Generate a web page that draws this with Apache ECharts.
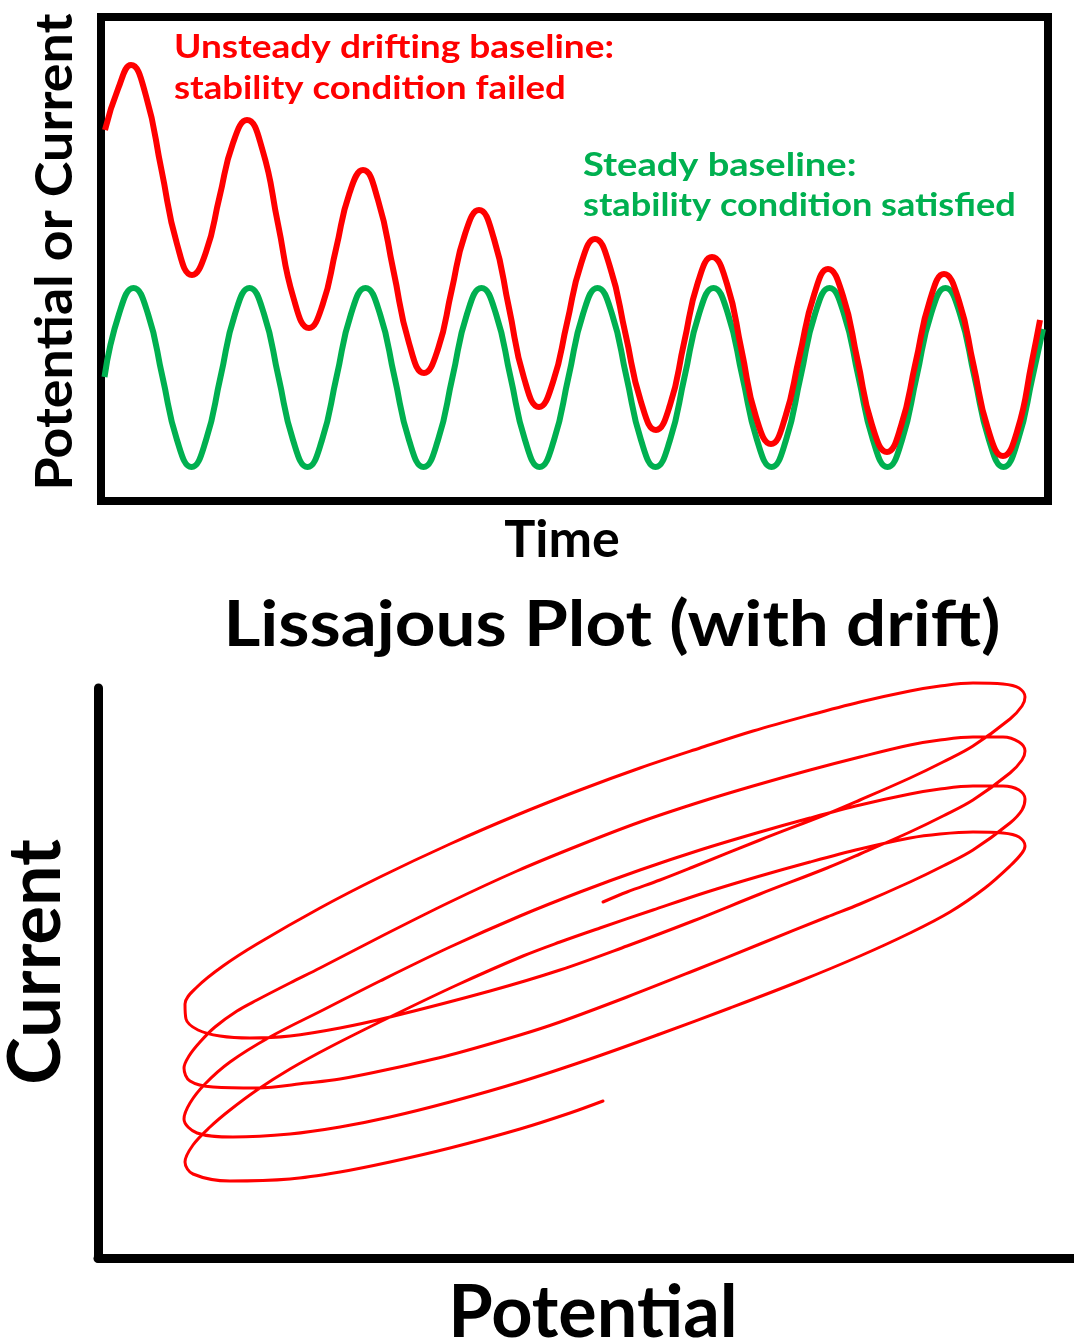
<!DOCTYPE html>
<html>
<head>
<meta charset="utf-8">
<script src="https://cdn.jsdelivr.net/npm/echarts@6/dist/echarts.min.js"></script>
<style>
html,body{margin:0;padding:0;background:#fff;}
#chart{width:1074px;height:1344px;}
</style>
</head>
<body>
<div id="chart"></div>
<script>
// ---- Top panel: time series (arbitrary units) ----
const greenTime = [3.5,18,32.5,47,61.5,76,90.5,105,119.5,134,148.5,163,177.5,192,206.5,221,235.5,250,264.5,279,293.5,308,322.5,337,351.5,366,380.5,395,409.5,424,438.5,453,467.5,482,496.5,511,525.5,540,554.5,569,583.5,598,612.5,627,641.5,656,670.5,685,699.5,714,728.5,743,757.5,772,786.5,801,815.5,830,844.5,859,873.5,888,902.5,917,931.5,942];
const greenValue = [124,187,213,187,124,61,34,61, 124,187,213,187,124,61,34,61, 124,187,213,187,124,61,34,61, 124,187,213,187,124,61,34,61, 124,187,213,187,124,61,34,61, 124,187,213,187,124,61,34,61, 124,187,213,187,124,61,34,61, 124,187,213,187,124,61,34,61, 124,172];

const redTime = [4,17,30,45,60.5,76,91,105,118.5,132,146,161.5,177,192.5,208,221.5,235,248.5,262,277,292.5,308,323,337,350.5,364,378,393,408,423,438,452,466,480,494,509,524.5,540,555,569,583,597,611,626,640.5,655,670,684,698.5,713,727,742,756.5,771,786,800,814.5,829,843,858,872.5,887,902,916.5,931,939];
const redValue = [371,412,436,405,331,257,226,249,304,358,381,351,277,203,173,196,252,308,331,301,230,158,128,152,210,267,291,262,193,123,94,119,178,237,262,234,167,99,71,96,158,219,244,217,151,84,57,83,145,206,232,205,141,76,49,75,138,201,227,200,136,72,45,71,140,181];

// ---- Bottom panel: Lissajous plot (potential vs current, arbitrary units) ----
const lissPotential = [
  505,529,562,595,662,729,762,812,845,875,912,924,
  927,921,905,875,842,812,762,712,655,602,542,482,419,352,282,222,159,125,99,87,
  88,100,122,152,192,242,292,392,462,529,595,662,729,762,812,845,875,912,924,
  927,921,905,875,842,812,762,712,655,602,542,482,419,352,282,222,192,159,139,117,102,91,86,
  92,115,159,209,242,292,352,422,462,529,595,662,729,762,812,845,875,912,924,
  927,921,905,875,842,812,762,712,662,602,542,482,422,352,282,225,172,132,107,92,86,
  99,135,192,242,292,352,422,492,562,632,702,762,812,852,887,912,924,
  927,921,905,875,842,812,762,712,662,609,555,502,462,425,359,292,232,192,159,132,112,95,87,
  95,132,192,242,292,352,422,472,505];
const lissCurrent = [
  356,366,378,391,418,444,458,480,496,512,539,552,
  561,570,574,575,572,567,556,543,527,510,490,468,443,414,381,350,314,292,271,254,
  239,228,222,220,222,230,241,267,288,312,337,364,390,404,426,442,458,485,498,
  507,516,521,521,518,513,501,488,472,456,436,413,387,356,321,290,275,258,247,231,216,202,190,
  177,171,170,175,179,189,203,223,236,261,287,314,341,354,376,392,408,435,448,
  459,468,472,472,469,464,453,440,426,408,388,366,342,311,277,248,221,196,174,155,139,
  125,121,124,131,141,156,176,199,224,250,277,302,325,346,370,392,405,
  412,421,425,426,424,420,409,396,382,366,348,330,316,302,273,241,211,189,168,148,131,113,96,
  84,77,79,86,96,110,129,145,157];

// ---- Text ----
const topYLabel = 'Potential or Current';
const topXLabel = 'Time';
const redNote = ['Unsteady drifting baseline:', 'stability condition failed'];
const greenNote = ['Steady baseline:', 'stability condition satisfied'];
const bottomTitle = 'Lissajous Plot (with drift)';
const bottomXLabel = 'Potential';
const bottomYLabel = 'Current';

const RED = '#FF0000';
const GREEN = '#00B050';
const FONT = 'Lato';

const zip = (a, b) => a.map((v, i) => [v, b[i]]);

function txt(text, x, y, size, color, align, rot, sx) {
  return {
    type: 'text', x: x, y: y, rotation: rot || 0, scaleX: sx || 1, scaleY: 1, silent: true,
    style: {
      text: text, fill: color, fontFamily: FONT, fontWeight: 'bold', fontSize: size,
      font: 'bold ' + size + 'px ' + FONT,
      textAlign: align, align: align,
      textVerticalAlign: 'middle', verticalAlign: 'middle'
    }
  };
}

const chart = echarts.init(document.getElementById('chart'), null, {renderer: 'canvas'});
chart.setOption({
  animation: false,
  backgroundColor: '#ffffff',
  grid: [
    {left: 101, top: 17, width: 947, height: 484, show: true, borderColor: '#000', borderWidth: 8, backgroundColor: 'transparent'},
    {left: 98, top: 688, width: 976, height: 570}
  ],
  xAxis: [
    {type: 'value', gridIndex: 0, min: 0, max: 947, show: false},
    {type: 'value', gridIndex: 1, min: 0, max: 976,
      axisLine: {show: true, onZero: false, lineStyle: {color: '#000', width: 9, cap: 'round'}},
      axisTick: {show: false}, axisLabel: {show: false}, splitLine: {show: false}}
  ],
  yAxis: [
    {type: 'value', gridIndex: 0, min: 0, max: 484, show: false},
    {type: 'value', gridIndex: 1, min: 0, max: 570,
      axisLine: {show: true, onZero: false, lineStyle: {color: '#000', width: 9, cap: 'round'}},
      axisTick: {show: false}, axisLabel: {show: false}, splitLine: {show: false}}
  ],
  series: [
    {name: 'Steady baseline', type: 'line', xAxisIndex: 0, yAxisIndex: 0,
      data: zip(greenTime, greenValue), smooth: 0.5, showSymbol: false, symbol: 'none',
      lineStyle: {color: GREEN, width: 6}, z: 2},
    {name: 'Unsteady drifting baseline', type: 'line', xAxisIndex: 0, yAxisIndex: 0,
      data: zip(redTime, redValue), smooth: 0.5, showSymbol: false, symbol: 'none',
      lineStyle: {color: RED, width: 6}, z: 3},
    {name: 'Lissajous', type: 'line', xAxisIndex: 1, yAxisIndex: 1,
      data: zip(lissPotential, lissCurrent), smooth: 0.35, showSymbol: false, symbol: 'none',
      clip: false, lineStyle: {color: RED, width: 3, cap: 'round', join: 'round'}, z: 3}
  ],
  graphic: [
    txt(topYLabel, 56, 252, 51, '#000', 'center', Math.PI / 2, 1.055),
    txt(topXLabel, 562, 540, 52, '#000', 'center'),
    txt(redNote[0], 174, 48, 32, RED, 'left', 0, 1.158),
    txt(redNote[1], 174, 89, 32, RED, 'left', 0, 1.143),
    txt(greenNote[0], 583, 166, 32, GREEN, 'left', 0, 1.19),
    txt(greenNote[1], 583, 206, 32, GREEN, 'left', 0, 1.13),
    txt(bottomTitle, 612, 625, 64, '#000', 'center', 0, 1.109),
    txt(bottomXLabel, 593, 1314, 72, '#000', 'center'),
    txt(bottomYLabel, 37, 962, 72, '#000', 'center', Math.PI / 2)
  ]
});
</script>
</body>
</html>
